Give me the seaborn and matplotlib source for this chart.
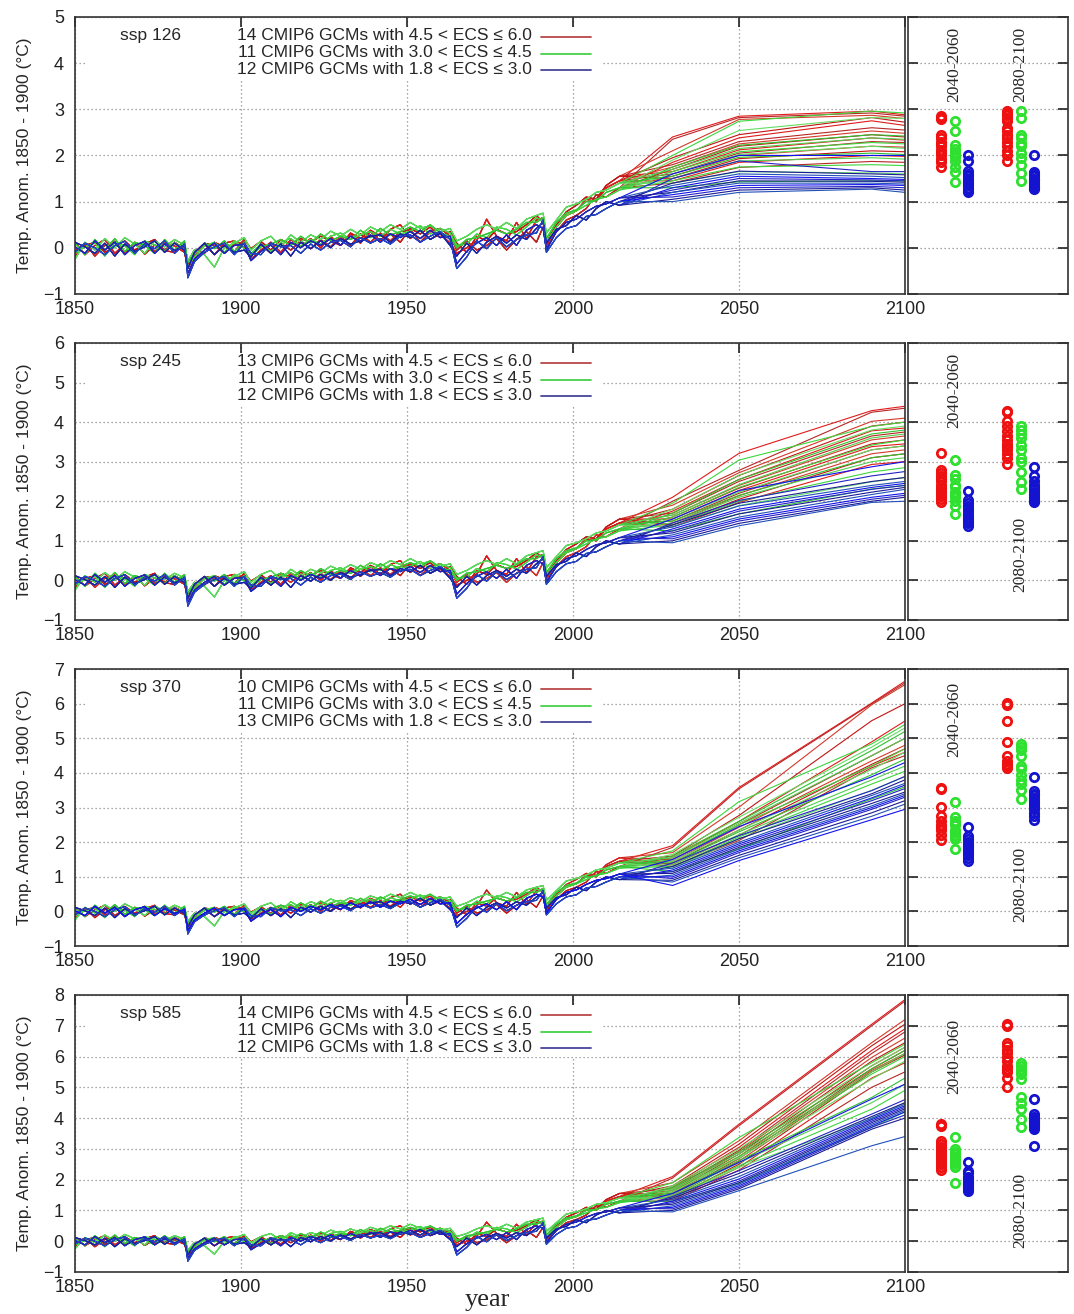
import matplotlib
matplotlib.use('Agg')
import matplotlib.pyplot as plt
import matplotlib.patches as mpatches
import seaborn as sns
import pandas as pd

# ---------------- data ----------------
HIST_YEARS = [1850, 1853, 1856, 1859, 1862, 1865, 1868, 1871, 1874, 1877,
              1880, 1883, 1884, 1886, 1889, 1892, 1895, 1898,
              1901, 1903, 1906, 1909, 1912, 1915, 1918,
              1921, 1924, 1927, 1930, 1933, 1936, 1939,
              1942, 1945, 1948, 1951, 1954, 1957, 1960,
              1963, 1965, 1968, 1971, 1974, 1977,
              1980, 1983, 1986, 1989, 1991, 1992, 1995, 1998,
              2001, 2004, 2007, 2010, 2014]
FUT_YEARS = [2030, 2050, 2090, 2100]

# historical runs (shared by all scenarios), three representative runs per ECS group
RED_HIST_A = [0.12, -0.15, 0.05, 0.18, -0.12, 0.08, -0.10, 0.15, -0.08, 0.10,
              0.04, -0.10, -0.45, -0.18, 0.08, -0.15, 0.10, 0.15,
              0.00, -0.25, -0.05, 0.12, -0.10, 0.18, 0.02,
              0.20, 0.00, 0.25, 0.05, 0.30, 0.10, 0.35,
              0.15, 0.40, 0.50, 0.20, 0.38, 0.18, 0.30,
              0.10, -0.12, 0.00, 0.15, 0.62, 0.25,
              0.15, 0.55, 0.20, 0.60, 0.65, 0.05, 0.45, 0.70,
              0.80, 1.05, 1.00, 1.30, 1.45]
RED_HIST_B = [-0.08, 0.10, -0.18, 0.05, 0.14, -0.10, 0.12, -0.14, 0.06, -0.05,
              0.12, -0.02, -0.35, -0.25, 0.10, 0.05, -0.12, 0.08,
              0.12, -0.18, 0.08, -0.12, 0.10, -0.05, 0.15,
              -0.02, 0.18, 0.02, 0.25, 0.05, 0.30, 0.12,
              0.32, 0.15, 0.35, 0.40, 0.12, 0.35, 0.42,
              0.25, -0.05, 0.15, -0.05, 0.05, 0.20,
              -0.05, 0.18, 0.35, 0.12, 0.45, 0.00, 0.35, 0.60,
              0.70, 0.85, 1.15, 1.10, 1.30]
RED_HIST_C = [-0.18, 0.05, 0.12, -0.10, 0.02, 0.15, -0.05, 0.08, 0.18, -0.06,
              -0.10, 0.10, -0.30, -0.05, -0.12, 0.12, 0.02, -0.08,
              0.18, -0.02, 0.14, -0.05, 0.18, 0.08, 0.20,
              0.12, 0.25, 0.15, 0.05, 0.32, 0.20, 0.38,
              0.25, 0.30, 0.12, 0.42, 0.30, 0.45, 0.22,
              0.35, 0.10, -0.10, 0.25, 0.15, 0.40,
              0.30, 0.35, 0.50, 0.70, 0.55, 0.12, 0.50, 0.78,
              0.92, 1.10, 1.05, 1.35, 1.55]
GREEN_HIST_A = [-0.25, 0.12, -0.05, 0.20, 0.00, 0.22, 0.08, -0.12, 0.15, 0.02,
                0.18, 0.06, -0.28, -0.05, -0.15, -0.42, 0.00, 0.10,
                0.22, -0.05, 0.15, 0.25, 0.02, 0.28, 0.12,
                0.28, 0.18, 0.36, 0.25, 0.40, 0.28, 0.45,
                0.35, 0.50, 0.40, 0.55, 0.42, 0.48, 0.35,
                0.42, 0.15, 0.25, 0.40, 0.50, 0.40,
                0.55, 0.42, 0.62, 0.70, 0.75, 0.32, 0.60, 0.88,
                0.95, 1.05, 1.20, 1.25, 1.40]
GREEN_HIST_B = [0.10, -0.15, 0.18, -0.05, 0.20, -0.08, 0.12, 0.05, -0.12, 0.18,
                -0.05, 0.15, -0.32, -0.12, 0.10, -0.02, 0.15, -0.08,
                0.12, -0.18, 0.02, 0.08, 0.18, 0.05, 0.25,
                0.10, 0.30, 0.15, 0.25, 0.18, 0.38, 0.22,
                0.42, 0.28, 0.35, 0.45, 0.35, 0.50, 0.32,
                0.25, 0.00, 0.18, 0.22, 0.30, 0.38,
                0.30, 0.40, 0.55, 0.55, 0.65, 0.20, 0.55, 0.75,
                0.82, 1.00, 1.02, 1.20, 1.30]
GREEN_HIST_C = [-0.12, 0.02, 0.10, -0.18, 0.12, 0.04, -0.15, 0.15, 0.06, -0.08,
                0.12, -0.06, -0.40, -0.20, 0.04, 0.12, -0.10, 0.15,
                -0.02, -0.12, 0.08, -0.08, 0.12, 0.20, 0.04,
                0.18, 0.08, 0.25, 0.32, 0.18, 0.28, 0.35,
                0.25, 0.40, 0.30, 0.36, 0.48, 0.30, 0.42,
                0.32, 0.05, 0.08, 0.30, 0.22, 0.45,
                0.40, 0.28, 0.45, 0.65, 0.58, 0.12, 0.45, 0.70,
                0.80, 0.92, 1.05, 1.10, 1.25]
BLUE_HIST_A = [0.02, -0.12, 0.15, -0.05, 0.12, -0.15, 0.05, 0.14, -0.12, 0.08,
               -0.06, 0.05, -0.55, -0.25, -0.05, 0.10, -0.12, 0.05,
               0.08, -0.28, -0.08, 0.06, -0.15, 0.12, 0.00,
               0.15, 0.05, 0.20, 0.06, 0.25, 0.12, 0.28,
               0.12, 0.30, 0.22, 0.35, 0.20, 0.38, 0.22,
               0.25, -0.35, -0.08, 0.10, 0.22, 0.05,
               0.28, 0.05, 0.38, 0.50, 0.42, -0.05, 0.35, 0.55,
               0.62, 0.78, 0.90, 0.95, 1.08]
BLUE_HIST_B = [0.12, 0.02, -0.12, 0.10, -0.18, 0.08, -0.08, 0.02, 0.15, -0.10,
               0.10, -0.06, -0.45, -0.10, 0.10, -0.15, 0.05, -0.10,
               -0.05, -0.20, 0.08, -0.12, 0.08, -0.18, 0.12,
               -0.02, 0.15, 0.00, 0.20, 0.08, 0.15, 0.25,
               0.28, 0.12, 0.30, 0.22, 0.38, 0.18, 0.32,
               0.05, -0.18, 0.10, -0.12, 0.12, 0.25,
               0.10, 0.28, 0.18, 0.42, 0.55, 0.10, 0.40, 0.48,
               0.70, 0.60, 0.85, 1.00, 0.92]
BLUE_HIST_C = [-0.10, 0.10, 0.00, -0.15, 0.05, 0.14, -0.12, 0.08, -0.02, 0.15,
               -0.12, 0.08, -0.65, -0.30, -0.10, 0.02, 0.10, -0.15,
               0.10, -0.12, -0.15, 0.10, 0.02, 0.05, -0.12,
               0.08, -0.05, 0.12, 0.16, 0.02, 0.22, 0.10,
               0.20, 0.08, 0.25, 0.28, 0.12, 0.25, 0.35,
               0.18, -0.45, -0.20, 0.15, -0.02, 0.22,
               0.02, 0.18, 0.28, 0.32, 0.60, -0.10, 0.22, 0.42,
               0.48, 0.68, 0.72, 0.85, 1.00]

# ssp 126 (2050 = 2040-2060 mean, 2090 = 2080-2100 mean)
RED_126_2030 = [2.40, 2.35, 2.10, 1.95, 1.85, 1.80, 1.75, 1.70, 1.65, 1.60, 1.55, 1.50, 1.45, 1.40]
RED_126_2050 = [2.85, 2.82, 2.78, 2.45, 2.38, 2.30, 2.25, 2.20, 2.12, 2.05, 2.00, 1.93, 1.85, 1.74]
RED_126_2090 = [2.96, 2.92, 2.87, 2.82, 2.75, 2.60, 2.53, 2.45, 2.38, 2.30, 2.20, 2.10, 2.00, 1.87]
RED_126_2100 = [2.88, 2.85, 2.80, 2.72, 2.65, 2.55, 2.48, 2.40, 2.33, 2.28, 2.18, 2.08, 1.98, 1.85]
GREEN_126_2030 = [2.00, 1.90, 1.75, 1.70, 1.65, 1.60, 1.55, 1.50, 1.45, 1.40, 1.30]
GREEN_126_2050 = [2.74, 2.54, 2.22, 2.15, 2.08, 2.02, 1.96, 1.88, 1.75, 1.65, 1.43]
GREEN_126_2090 = [2.96, 2.82, 2.45, 2.38, 2.28, 2.20, 2.05, 1.95, 1.80, 1.62, 1.45]
GREEN_126_2100 = [2.92, 2.80, 2.42, 2.35, 2.25, 2.15, 2.02, 1.92, 1.78, 1.60, 1.45]
BLUE_126_2030 = [1.60, 1.50, 1.40, 1.35, 1.30, 1.25, 1.20, 1.20, 1.15, 1.10, 1.05, 1.00]
BLUE_126_2050 = [2.00, 1.88, 1.66, 1.60, 1.55, 1.50, 1.45, 1.40, 1.35, 1.30, 1.25, 1.20]
BLUE_126_2090 = [2.00, 1.65, 1.60, 1.55, 1.50, 1.47, 1.44, 1.40, 1.37, 1.33, 1.30, 1.27]
BLUE_126_2100 = [2.00, 1.65, 1.58, 1.52, 1.48, 1.45, 1.42, 1.38, 1.35, 1.30, 1.25, 1.20]

# ssp 245
RED_245_2030 = [2.10, 2.00, 1.90, 1.80, 1.75, 1.70, 1.65, 1.60, 1.55, 1.50, 1.45, 1.40, 1.35]
RED_245_2050 = [3.21, 2.78, 2.72, 2.65, 2.55, 2.50, 2.40, 2.33, 2.27, 2.20, 2.14, 2.05, 1.97]
RED_245_2090 = [4.29, 4.25, 4.02, 3.90, 3.78, 3.65, 3.55, 3.45, 3.38, 3.30, 3.20, 3.10, 2.93]
RED_245_2100 = [4.40, 4.35, 4.10, 4.00, 3.85, 3.75, 3.65, 3.55, 3.45, 3.40, 3.30, 3.20, 3.00]
GREEN_245_2030 = [1.95, 1.80, 1.70, 1.65, 1.60, 1.55, 1.50, 1.45, 1.40, 1.35, 1.25]
GREEN_245_2050 = [3.04, 2.66, 2.55, 2.42, 2.35, 2.23, 2.15, 2.10, 2.00, 1.89, 1.68]
GREEN_245_2090 = [3.89, 3.80, 3.70, 3.60, 3.42, 3.30, 3.10, 3.00, 2.74, 2.49, 2.31]
GREEN_245_2100 = [4.00, 3.90, 3.80, 3.70, 3.55, 3.40, 3.20, 3.10, 2.85, 2.60, 2.40]
BLUE_245_2030 = [1.55, 1.45, 1.40, 1.35, 1.30, 1.25, 1.20, 1.15, 1.10, 1.05, 1.00, 0.95]
BLUE_245_2050 = [2.27, 2.02, 1.95, 1.88, 1.80, 1.75, 1.68, 1.60, 1.55, 1.50, 1.44, 1.38]
BLUE_245_2090 = [2.87, 2.64, 2.50, 2.40, 2.35, 2.30, 2.23, 2.17, 2.10, 2.05, 2.00, 1.97]
BLUE_245_2100 = [3.00, 2.75, 2.60, 2.50, 2.45, 2.40, 2.35, 2.30, 2.20, 2.15, 2.10, 2.00]

# ssp 370
RED_370_2030 = [1.90, 1.85, 1.70, 1.60, 1.55, 1.50, 1.45, 1.40, 1.35, 1.30]
RED_370_2050 = [3.58, 3.54, 3.01, 2.77, 2.60, 2.50, 2.43, 2.35, 2.20, 2.05]
RED_370_2090 = [6.02, 6.00, 5.97, 5.51, 4.90, 4.50, 4.35, 4.25, 4.20, 4.15]
RED_370_2100 = [6.65, 6.60, 6.55, 6.00, 5.50, 5.00, 4.80, 4.70, 4.60, 4.50]
GREEN_370_2030 = [1.75, 1.65, 1.60, 1.55, 1.50, 1.45, 1.40, 1.35, 1.30, 1.25, 1.15]
GREEN_370_2050 = [3.17, 2.72, 2.60, 2.55, 2.50, 2.35, 2.30, 2.22, 2.15, 2.10, 1.81]
GREEN_370_2090 = [4.84, 4.75, 4.65, 4.50, 4.20, 4.10, 3.95, 3.80, 3.68, 3.50, 3.25]
GREEN_370_2100 = [5.40, 5.30, 5.20, 5.00, 4.70, 4.60, 4.40, 4.20, 4.05, 3.90, 3.60]
BLUE_370_2030 = [1.50, 1.40, 1.30, 1.25, 1.20, 1.15, 1.10, 1.05, 1.00, 0.95, 0.90, 0.85, 0.75]
BLUE_370_2050 = [2.45, 2.19, 2.10, 2.00, 1.95, 1.90, 1.85, 1.80, 1.75, 1.70, 1.62, 1.55, 1.47]
BLUE_370_2090 = [3.89, 3.49, 3.40, 3.35, 3.28, 3.20, 3.12, 3.05, 3.00, 2.95, 2.85, 2.75, 2.65]
BLUE_370_2100 = [4.30, 3.90, 3.80, 3.70, 3.65, 3.55, 3.45, 3.40, 3.35, 3.30, 3.20, 3.10, 2.95]

# ssp 585
RED_585_2030 = [2.10, 2.05, 1.90, 1.80, 1.75, 1.70, 1.65, 1.60, 1.55, 1.50, 1.45, 1.40, 1.35, 1.30]
RED_585_2050 = [3.80, 3.75, 3.26, 3.15, 3.05, 2.95, 2.90, 2.83, 2.75, 2.68, 2.60, 2.50, 2.40, 2.31]
RED_585_2090 = [7.05, 7.00, 6.45, 6.35, 6.20, 6.10, 5.97, 5.85, 5.70, 5.60, 5.55, 5.50, 5.30, 5.00]
RED_585_2100 = [7.85, 7.80, 7.20, 7.05, 6.90, 6.80, 6.60, 6.45, 6.30, 6.20, 6.10, 6.05, 5.80, 5.50]
GREEN_585_2030 = [1.90, 1.80, 1.75, 1.70, 1.65, 1.60, 1.55, 1.50, 1.45, 1.40, 1.30]
GREEN_585_2050 = [3.37, 3.00, 2.90, 2.83, 2.75, 2.70, 2.62, 2.55, 2.45, 2.40, 1.88]
GREEN_585_2090 = [5.80, 5.70, 5.60, 5.50, 5.43, 5.27, 4.67, 4.50, 4.29, 3.97, 3.70]
GREEN_585_2100 = [6.40, 6.30, 6.20, 6.10, 6.00, 5.85, 5.30, 5.10, 4.90, 4.50, 4.20]
BLUE_585_2030 = [1.55, 1.45, 1.40, 1.35, 1.30, 1.25, 1.20, 1.15, 1.10, 1.05, 1.00, 0.95]
BLUE_585_2050 = [2.56, 2.29, 2.20, 2.10, 2.02, 1.95, 1.90, 1.85, 1.80, 1.75, 1.70, 1.64]
BLUE_585_2090 = [4.62, 4.13, 4.05, 4.00, 3.95, 3.90, 3.85, 3.80, 3.75, 3.70, 3.64, 3.10]
BLUE_585_2100 = [5.10, 4.60, 4.50, 4.45, 4.40, 4.35, 4.30, 4.25, 4.20, 4.10, 4.00, 3.40]

SCENARIOS = ['ssp 126', 'ssp 245', 'ssp 370', 'ssp 585']
Y_TOPS = [5, 6, 7, 8]
ECS_RANGES = ['4.5 < ECS \u2264 6.0', '3.0 < ECS \u2264 4.5', '1.8 < ECS \u2264 3.0']
GROUPS = ['red', 'green', 'blue']

HIST = {'red': [RED_HIST_A, RED_HIST_B, RED_HIST_C],
        'green': [GREEN_HIST_A, GREEN_HIST_B, GREEN_HIST_C],
        'blue': [BLUE_HIST_A, BLUE_HIST_B, BLUE_HIST_C]}
FUTURE = [
    {'red': [RED_126_2030, RED_126_2050, RED_126_2090, RED_126_2100],
     'green': [GREEN_126_2030, GREEN_126_2050, GREEN_126_2090, GREEN_126_2100],
     'blue': [BLUE_126_2030, BLUE_126_2050, BLUE_126_2090, BLUE_126_2100]},
    {'red': [RED_245_2030, RED_245_2050, RED_245_2090, RED_245_2100],
     'green': [GREEN_245_2030, GREEN_245_2050, GREEN_245_2090, GREEN_245_2100],
     'blue': [BLUE_245_2030, BLUE_245_2050, BLUE_245_2090, BLUE_245_2100]},
    {'red': [RED_370_2030, RED_370_2050, RED_370_2090, RED_370_2100],
     'green': [GREEN_370_2030, GREEN_370_2050, GREEN_370_2090, GREEN_370_2100],
     'blue': [BLUE_370_2030, BLUE_370_2050, BLUE_370_2090, BLUE_370_2100]},
    {'red': [RED_585_2030, RED_585_2050, RED_585_2090, RED_585_2100],
     'green': [GREEN_585_2030, GREEN_585_2050, GREEN_585_2090, GREEN_585_2100],
     'blue': [BLUE_585_2030, BLUE_585_2050, BLUE_585_2090, BLUE_585_2100]},
]

# ---------------- style ----------------
LINE_SHADES = {'red': ['#e01b1b', '#b82626', '#d43a2a', '#c21414'],
               'green': ['#3cd63c', '#62de62', '#2fc22f', '#50d050'],
               'blue': ['#1212ee', '#2323c4', '#1b1b96', '#2150b8']}
DOT_COLORS = {'red': '#ee1111', 'green': '#30e030', 'blue': '#1414d0'}
LEGEND_COLORS = {'red': '#b84848', 'green': '#46d046', 'blue': '#45459a'}
DOT_X = {'red': (2.5, 7.45), 'green': (3.5, 8.5), 'blue': (4.5, 9.45)}

sns.set_style('white')
plt.rcParams['font.family'] = ['Liberation Sans', 'DejaVu Sans']
plt.rcParams['axes.edgecolor'] = '#333333'
plt.rcParams['axes.linewidth'] = 1.2

fig = plt.figure(figsize=(10.74, 13.14), dpi=100)
bottoms = [0.7763, 0.5282, 0.2800, 0.0320]
lab_y = [(0.827, 0.827), (0.83, 0.236), (0.817, 0.223), (0.777, 0.223)]
grid_kw = dict(color='#8a8a8a', linestyle=(0, (1, 2.2)), linewidth=0.9)

for k in range(4):
    ax = fig.add_axes([0.0698, bottoms[k], 0.7728, 0.2108])
    sx = fig.add_axes([0.8454, bottoms[k], 0.149, 0.2108])
    fut = FUTURE[k]

    rows = []
    models = []
    pal = {}
    for g in GROUPS:
        v30, v50, v90, v00 = fut[g]
        for i in range(len(v50)):
            name = f'{g}{i:02d}'
            models.append(name)
            pal[name] = LINE_SHADES[g][i % 4]
            vals = HIST[g][i % 3] + [v30[i], v50[i], v90[i], v00[i]]
            for yr, v in zip(HIST_YEARS + FUT_YEARS, vals):
                rows.append((name, g, yr, v))
    df = pd.DataFrame(rows, columns=['model', 'group', 'year', 'temp'])

    sns.lineplot(data=df, x='year', y='temp', hue='model', hue_order=models,
                 palette=pal, estimator=None, errorbar=None, legend=False,
                 linewidth=0.8, ax=ax, zorder=2)

    ax.set_xlim(1850, 2100)
    ax.set_ylim(-1, Y_TOPS[k])
    ax.set_xticks([1850, 1900, 1950, 2000, 2050, 2100])
    ax.set_yticks(range(-1, Y_TOPS[k] + 1))
    ax.set_axisbelow(True)
    ax.grid(True, **grid_kw)
    ax.tick_params(direction='in', length=7, width=1.2, top=True, right=False,
                   labelsize=13, colors='#222222')
    ax.tick_params(axis='x', pad=5)
    ax.tick_params(axis='y', pad=8)
    ax.set_xlabel('')
    ax.set_ylabel('Temp. Anom. 1850 - 1900 (\u00b0C)', fontsize=12.5)
    ax.yaxis.set_label_coords(-0.052, 0.5)

    # white legend area (hides the grid behind the legend text)
    ax.add_patch(mpatches.Rectangle((0.014, 0.775), 0.62, 0.183, transform=ax.transAxes,
                                    facecolor='white', edgecolor='none', zorder=1))
    ax.text(0.054, 0.932, SCENARIOS[k], transform=ax.transAxes, fontsize=12.5,
            va='center', ha='left', zorder=3)
    for j, g in enumerate(GROUPS):
        n = len(fut[g][1])
        yy = 0.932 - 0.06 * j
        ax.text(0.5506, yy, f'{n} CMIP6 GCMs with {ECS_RANGES[j]}', transform=ax.transAxes,
                fontsize=12.5, va='center', ha='right', zorder=3)
        ax.plot([0.561, 0.622], [yy - 0.004, yy - 0.004], transform=ax.transAxes,
                color=LEGEND_COLORS[g], lw=1.3, zorder=3)

    # side panel with the 20-year means
    for g in GROUPS:
        v50, v90 = fut[g][1], fut[g][2]
        x1, x2 = DOT_X[g]
        sx.plot([x1] * len(v50), v50, 'o', ms=6, mfc='none', mec=DOT_COLORS[g], mew=2.0)
        sx.plot([x2] * len(v90), v90, 'o', ms=6, mfc='none', mec=DOT_COLORS[g], mew=2.0)
    sx.set_xlim(0, 12)
    sx.set_ylim(-1, Y_TOPS[k])
    sx.set_yticks(range(-1, Y_TOPS[k] + 1))
    sx.set_xticks([])
    sx.set_axisbelow(True)
    sx.grid(True, axis='y', **grid_kw)
    sx.tick_params(axis='y', direction='in', length=7, width=1.2, left=True, right=True,
                   labelleft=False, colors='#222222')
    tr = sx.get_xaxis_transform()
    sx.text(3.45, lab_y[k][0], '2040-2060', transform=tr, rotation=90, ha='center',
            va='center', fontsize=12.5, family=['Liberation Serif', 'DejaVu Serif'])
    sx.text(8.4, lab_y[k][1], '2080-2100', transform=tr, rotation=90, ha='center',
            va='center', fontsize=12.5, family=['Liberation Serif', 'DejaVu Serif'])

fig.text(0.4535, 0.0107, 'year', ha='center', va='center', fontsize=19,
         family=['Liberation Serif', 'DejaVu Serif'])

fig.savefig('out.png', dpi=100)
